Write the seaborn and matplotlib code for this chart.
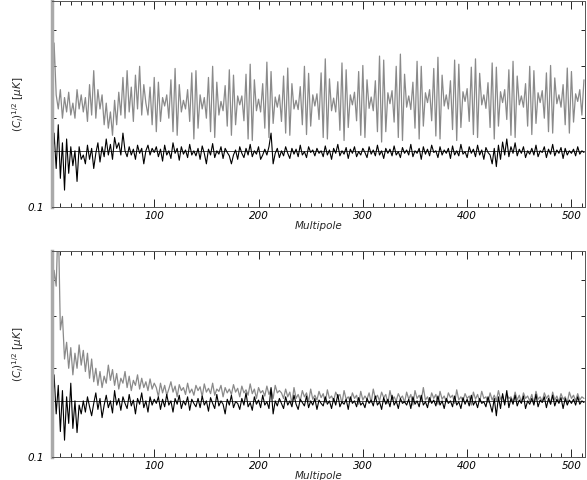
#!/usr/bin/env python
import numpy as np
import pandas as pd
import matplotlib
matplotlib.use("Agg")
import matplotlib.pyplot as plt
import seaborn as sns

# multipoles sampled every 2
ell = list(range(2, 513, 2))

# values in units of 1e-3 muK
top_gray = [
    190, 360, 240, 215, 250, 200, 235, 210, 245, 205, 225, 200, 250, 215, 240,
    210, 235, 195, 260, 205, 290, 200, 250, 215, 240, 190, 225, 185, 210, 175,
    230, 190, 245, 205, 275, 200, 290, 210, 255, 195, 280, 215, 300, 205, 260,
    225, 205, 255, 190, 275, 180, 265, 195, 235,
    220, 240, 200, 270, 180, 295, 175, 260, 210,
    230, 215, 250, 195, 285, 170, 290, 185, 240,
    215, 235, 200, 275, 180, 300, 172, 265, 205,
    228, 212, 258, 188, 292, 175, 280, 190, 238,
    222, 238, 196, 282, 170, 305, 168, 270, 212,
    232, 210, 262, 185, 310, 172, 288, 192, 236,
    218, 240, 195, 278, 178, 296, 175, 262, 215,
    230, 214, 256, 190, 300, 176, 284, 188, 240,
    220, 242, 198, 285, 172, 318, 170, 272, 212,
    234, 210, 266, 182, 308, 168, 292, 186, 240,
    222, 245, 196, 288, 175, 302, 172, 270, 216,
    236, 212, 268, 180, 325, 166, 315, 180, 244,
    224, 248, 194, 300, 172, 330, 168, 282, 218,
    238, 214, 265, 185, 312, 170, 300, 188, 244,
    226, 250, 196, 295, 174, 322, 170, 280, 220,
    240, 215, 268, 183, 315, 168, 305, 186, 246,
    228, 252, 195, 298, 176, 318, 172, 284, 222,
    240, 216, 264, 186, 308, 170, 298, 188, 246,
    226, 250, 198, 292, 175, 312, 172, 278, 222,
    238, 218, 262, 188, 300, 176, 290, 192, 244,
    226, 248, 200, 285, 180, 302, 178, 274, 224,
    240, 218, 260, 190, 296, 178, 288, 194, 242,
    228, 250, 205, 270,
]

top_black = [
    130, 178, 135, 190, 125, 165, 114, 170, 130, 160, 138, 155, 122, 160, 145,
    150, 140, 162, 145, 158, 135, 152, 165, 142, 160, 148, 170, 150, 163, 145,
    172, 158, 165, 150, 178, 155, 148, 160, 150, 157, 145, 162, 152, 158, 140,
    155, 162, 150, 158, 153,
    160, 148, 157, 143, 162, 150, 155, 146, 165, 152, 158, 144, 160, 151, 156, 147, 163, 150, 155, 149,
    158, 145, 161, 152, 140, 157, 150, 164, 147, 155, 151, 160, 146, 158, 153, 149, 140, 150, 156, 145,
    160, 152, 147, 158, 150, 163, 148, 155, 151, 160, 145, 150, 157, 150, 160, 178, 140, 152, 158, 147,
    155, 149, 160, 152, 146, 158, 151, 157, 148, 162, 150, 154, 147, 160, 153, 156, 149, 158, 152, 155,
    148, 161, 150, 156, 145, 158, 152, 163, 149, 155, 151, 159, 146, 157, 152, 160, 148, 154, 150, 158,
    153, 147, 160, 151, 156, 149, 162, 150, 155, 146, 158, 152, 157, 149, 161, 150, 154, 147, 159, 152,
    156, 150, 163, 148, 155, 152, 158, 145, 160, 151, 157, 149, 162, 153, 155, 147, 160, 150, 156, 152,
    158, 146, 161, 150, 155, 149, 163, 151, 154, 147, 160, 152, 157, 148, 162, 150, 156, 145, 159, 153,
    150, 140, 158, 137, 162, 145, 166, 150, 170, 148, 160, 152, 165, 149, 157, 152, 160, 147, 155, 151,
    158, 150, 162, 148, 155, 153, 160, 147, 157, 151, 163, 149, 156, 152, 159, 146, 158, 150, 155, 152,
    157, 149, 160, 151, 155, 153,
]

bot_gray = [
    300, 430, 380, 650, 270, 300, 215, 245, 200, 235, 190, 225, 200, 240, 205,
    230, 195, 225, 185, 215, 180, 200, 175, 195, 172, 188, 178, 205, 182, 198,
    175, 192, 170, 185, 178, 195, 172, 188, 168, 182, 175, 190, 170, 185, 172,
    180, 168, 184, 170, 178,
    172, 160, 178, 165, 175, 162, 170, 180, 166, 174, 160, 176, 168, 172, 163, 178, 165, 170, 162, 175,
    168, 173, 160, 177, 166, 171, 164, 178, 162, 170, 167, 175, 160, 172, 165, 170, 163, 176, 166, 171,
    160, 174, 165, 169, 162, 177, 164, 170, 158, 172, 165, 168, 161, 174, 163, 170, 158, 175, 165, 168,
    165, 158, 170, 160, 166, 152, 172, 158, 163, 155, 168, 160, 165, 154, 170, 157, 162, 156, 167, 159,
    164, 153, 169, 158, 161, 155, 166, 160, 163, 152, 168, 157, 160, 154, 165, 158, 162, 151, 167, 156,
    161, 157, 165, 153, 170, 158, 162, 155, 166, 159, 163, 152, 168, 156, 160, 155, 164, 158, 161, 153,
    166, 157, 163, 150, 168, 158, 162, 155, 172, 156, 160, 153, 165, 158, 163, 151, 167, 157, 161, 154,
    165, 159, 162, 152, 169, 156, 160, 155, 164, 158, 161, 150, 166, 157, 163, 154, 167, 158, 160, 153,
    165, 156, 162, 155, 168, 157, 161, 152, 164, 158, 160, 154, 166, 156, 162, 153, 165, 158, 161, 155,
    163, 152, 167, 157, 160, 154, 165, 158, 162, 151, 166, 156, 161, 154, 164, 157, 160, 153, 166, 158,
    162, 155, 164, 156, 160, 158,
]

bot_black = [
    132, 190, 140, 175, 122, 168, 114, 160, 130, 178, 125, 155, 121, 150, 140,
    155, 142, 160, 148, 138, 152, 165, 145, 158, 136, 150, 162, 147, 155, 141,
    168, 150, 158, 144, 160, 152, 146, 163, 149, 156, 140, 158, 151, 165, 147,
    155, 142, 160, 150, 157,
    152, 160, 145, 157, 148, 163, 150, 155, 142, 158, 151, 162, 146, 155, 150, 160, 144, 157, 152, 148,
    158, 147, 161, 150, 155, 143, 159, 152, 146, 163, 149, 155, 151, 140, 157, 150, 162, 147, 154, 152,
    145, 158, 150, 165, 148, 153, 144, 160, 151, 156, 147, 162, 150, 154, 146, 172, 140, 155, 149, 158,
    152, 146, 160, 150, 155, 148, 162, 151, 145, 157, 153, 149, 161, 147, 155, 150, 158, 145, 156, 152,
    149, 160, 151, 155, 146, 158, 150, 163, 148, 154, 151, 157, 145, 160, 152, 155, 148, 159, 150, 153,
    147, 158, 152, 156, 149, 161, 150, 154, 145, 159, 151, 157, 148, 162, 150, 155, 146, 158, 152, 154,
    150, 157, 146, 160, 151, 155, 148, 162, 150, 154, 147, 159, 152, 156, 149, 161, 150, 155, 146, 158,
    152, 155, 148, 161, 150, 154, 146, 159, 151, 157, 149, 162, 150, 155, 147, 158, 152, 154, 148, 160,
    151, 142, 158, 138, 160, 146, 164, 150, 168, 147, 158, 151, 162, 149, 156, 152, 161, 146, 155, 151,
    158, 150, 163, 148, 156, 153, 160, 147, 158, 151, 162, 149, 157, 152, 159, 146, 158, 150, 156, 152,
    157, 150, 160, 151, 155, 153,
]

ref_level = 0.155
ylabel = r'$(C_l)^{1/2}$ [$\mu K$]'
xlabel = 'Multipole'


def draw_panel(ax, gray, black):
    df = pd.DataFrame({'ell': ell,
                       'gray': np.array(gray) / 1000.0,
                       'black': np.array(black) / 1000.0})
    sns.lineplot(data=df, x='ell', y='gray', ax=ax, color='#8a8a8a',
                 linewidth=0.9, estimator=None)
    sns.lineplot(data=df, x='ell', y='black', ax=ax, color='black',
                 linewidth=0.8, estimator=None)
    ax.axhline(ref_level, color='black', linewidth=0.5)
    ax.set_yscale('log')
    ax.set_xlim(2, 513)
    ax.set_ylim(0.1, 0.5)
    ax.set_yticks([0.1])
    ax.set_yticklabels(['0.1'])
    ax.set_yticks([0.2, 0.3, 0.4], minor=True)
    ax.set_yticklabels([], minor=True)
    ax.set_xticks([100, 200, 300, 400, 500])
    ax.set_xticks(np.arange(10, 513, 10), minor=True)
    ax.tick_params(which='both', direction='in', top=True, right=True,
                   labelsize=7.5, width=0.6, colors='black')
    ax.tick_params(which='major', length=6, pad=3)
    ax.tick_params(which='minor', length=3)
    ax.tick_params(axis='y', which='major', pad=6)
    for lab in ax.get_xticklabels() + ax.get_yticklabels():
        lab.set_fontstyle('italic')
    ax.set_xlabel(xlabel, fontsize=7.5, fontstyle='italic', labelpad=0)
    ax.set_ylabel(ylabel, fontsize=7.5, labelpad=1)
    for side in ['top', 'right', 'bottom']:
        ax.spines[side].set_linewidth(0.7)
        ax.spines[side].set_color('#555555')
    ax.spines['left'].set_linewidth(2.5)
    ax.spines['left'].set_color('#aaaaaa')


sns.set_style("ticks")
plt.rcParams['font.family'] = ['DejaVu Sans']
plt.rcParams['mathtext.fontset'] = 'dejavusans'

fig = plt.figure(figsize=(5.87, 4.80), dpi=100)
ax1 = fig.add_axes([0.0886, 0.569, 0.908, 0.429])
ax2 = fig.add_axes([0.0886, 0.048, 0.908, 0.429])
draw_panel(ax1, top_gray, top_black)
draw_panel(ax2, bot_gray, bot_black)

fig.savefig('out.png', dpi=100)
